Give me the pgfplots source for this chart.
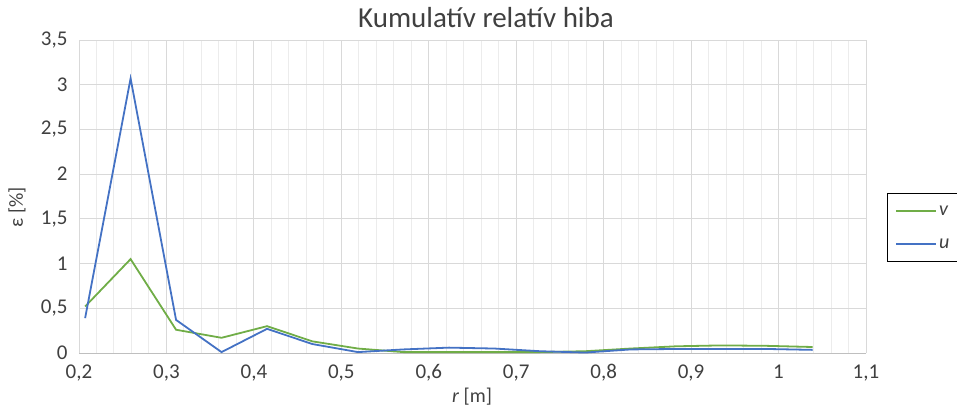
\documentclass[border=0pt]{standalone}
\usepackage{pgfplots}
\pgfplotsset{compat=1.18}
\usepackage{fontspec}
\setmainfont{Carlito}
\definecolor{vgreen}{RGB}{112,173,71}
\definecolor{ublue}{RGB}{68,114,196}
\definecolor{txt}{RGB}{64,64,64}
\definecolor{majgrid}{RGB}{217,217,217}
\definecolor{mingrid}{RGB}{236,236,236}
\begin{document}
\begin{tikzpicture}[x=1pt,y=1pt]
\useasboundingbox (0,0) rectangle (957,407);
\begin{axis}[
  at={(79pt,54pt)}, anchor=south west,
  scale only axis, width=787pt, height=313pt,
  xmin=0.2, xmax=1.1, ymin=0, ymax=3.5,
  xtick={0.2,0.3,...,1.1}, minor x tick num=4,
  ytick={0,0.5,...,3.5},
  grid=both,
  major grid style={majgrid, line width=1pt},
  minor grid style={mingrid, line width=1pt},
  axis line style={draw=none},
  axis x line*=bottom, axis y line*=left,
  tick style={draw=none},
  xticklabel style={font=\fontsize{21}{25}\selectfont, text=txt, yshift=-8pt},
  yticklabel style={font=\fontsize{21}{25}\selectfont, text=txt, xshift=-8pt},
  /pgf/number format/.cd, use comma, assume math mode=true, 1000 sep={},
  /pgfplots/.cd,
  legend style={at={(1.0267,0.511)}, anchor=north west, draw=black, line width=1pt,
    font=\fontsize{20}{24}\selectfont\itshape, text=txt, row sep=18pt,
    inner xsep=8pt, inner ysep=10pt},
  legend cell align=left,
  legend image code/.code={\draw[#1, line width=1.5pt] (0pt,0pt) -- (40pt,0pt);},
]
\draw[color={rgb,255:red,191;green,191;blue,191}, line width=1pt] (rel axis cs:0,0) -- (rel axis cs:1,0);
\addplot[vgreen, line width=1.8pt] coordinates {
(0.207,0.52) (0.259,1.05) (0.311,0.26) (0.363,0.17) (0.415,0.30) (0.467,0.13)
(0.519,0.05) (0.571,0.01) (0.623,0.01) (0.675,0.01) (0.727,0.01) (0.779,0.02)
(0.831,0.05) (0.883,0.075) (0.935,0.085) (0.987,0.08) (1.039,0.067)};
\addlegendentry{\makebox[60pt][l]{v}}
\addplot[ublue, line width=1.8pt] coordinates {
(0.207,0.39) (0.259,3.07) (0.311,0.37) (0.363,0.01) (0.415,0.27) (0.467,0.10)
(0.519,0.01) (0.571,0.04) (0.623,0.06) (0.675,0.05) (0.727,0.02) (0.779,0.005)
(0.831,0.04) (0.883,0.045) (0.935,0.045) (0.987,0.045) (1.039,0.035)};
\addlegendentry{\makebox[60pt][l]{u}}
\end{axis}
\node[font=\fontsize{29}{33}\selectfont, text=txt] at (486,389) {Kumulatív relatív hiba};
\node[font=\fontsize{20}{24}\selectfont, text=txt, rotate=90] at (17,200) {ε [\%]};
\node[font=\fontsize{20}{24}\selectfont, text=txt] at (472,10) {\textit{r} [m]};
\end{tikzpicture}
\end{document}
